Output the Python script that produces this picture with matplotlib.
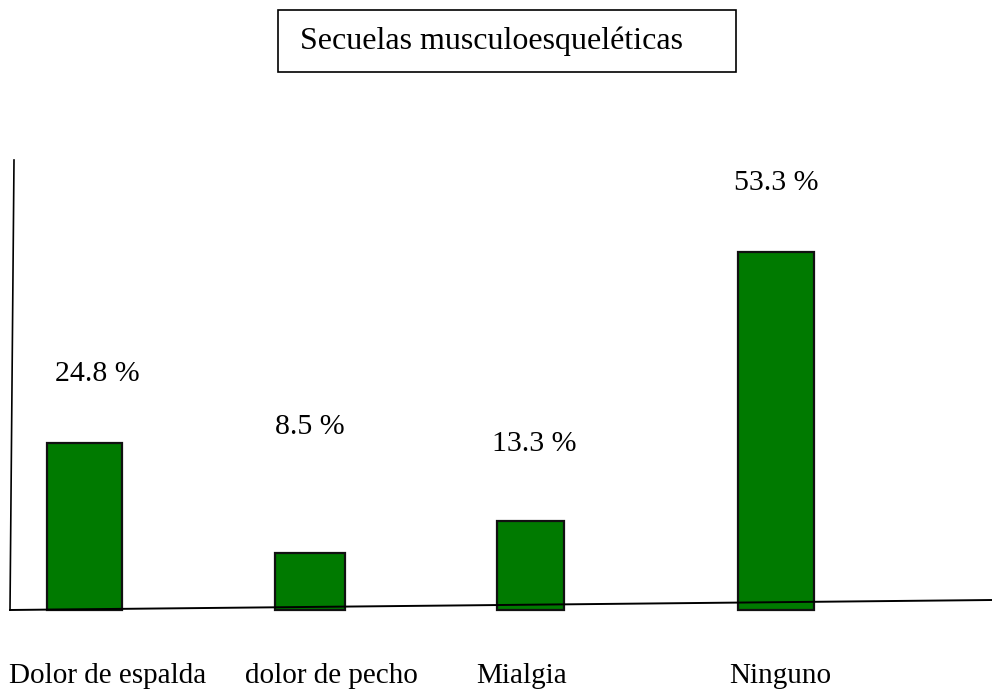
import matplotlib.pyplot as plt
from matplotlib.patches import Rectangle
from matplotlib.lines import Line2D

plt.rcParams['font.family'] = ['Liberation Serif', 'DejaVu Serif']

categorias = ['Dolor de espalda', 'dolor de pecho', 'Mialgia', 'Ninguno']
porcentajes = [24.8, 8.5, 13.3, 53.3]
etiquetas = ['24.8 %', '8.5 %', '13.3 %', '53.3 %']
titulo = 'Secuelas musculoesqueléticas'

# layout (pixels of a 992x692 canvas)
W, H = 992, 692
posiciones = [85, 310, 531, 776]
anchos = [75, 70, 67, 76]
desfase = [(9, 50), (0, 91), (2, 55), (0, 50)]   # value label offsets, in pt
cat_x = [108, 331, 522, 780]

fig = plt.figure(figsize=(W / 100, H / 100), dpi=100)
ax = fig.add_axes([10 / W, (H - 610) / H, 982 / W, 450 / H])
ax.set_xlim(0, 982)
ax.set_ylim(0, 67)
ax.axis('off')

x = [p - 10 for p in posiciones]
barras = ax.bar(x, porcentajes, width=anchos, color='#007a00',
                edgecolor='#111111', linewidth=1.6, clip_on=False)

for b, et, d in zip(barras, etiquetas, desfase):
    ax.annotate(et, (b.get_x() + b.get_width() / 2, b.get_height()),
                xytext=d, textcoords='offset points',
                ha='center', va='center', fontsize=21.5)

# hand drawn axes
fig.add_artist(Line2D([10 / W, 1.0], [(H - 610) / H, (H - 600) / H],
                      color='black', lw=1.4))
fig.add_artist(Line2D([10 / W, 14 / W], [(H - 610) / H, (H - 160) / H],
                      color='black', lw=1.2))

for c, cx in zip(categorias, cat_x):
    fig.text(cx / W, (H - 676) / H, c, ha='center', va='center', fontsize=21)

# title box
fig.add_artist(Rectangle((278 / W, (H - 72) / H), 458 / W, 62 / H,
                         transform=fig.transFigure, fill=False,
                         edgecolor='black', lw=1.2))
fig.text(300 / W, (H - 41) / H, titulo, ha='left', va='center', fontsize=23)

fig.savefig('out.png', dpi=100)
